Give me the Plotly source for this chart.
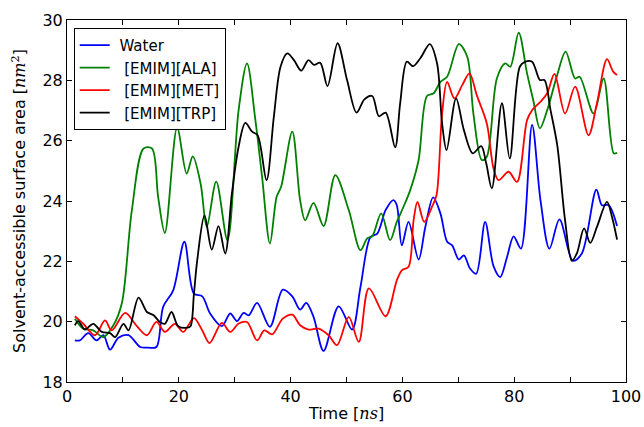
import plotly.graph_objects as go

water_x = [1.4, 2.3, 3.8, 5.3, 6.5, 7.7, 9.2, 11.0, 13.1, 14.5, 16.0, 17.2, 19.0, 21.0, 22.7, 24.2, 25.6, 27.7, 29.2, 30.4,
           31.6, 32.5, 34.0, 36.3, 38.6, 40.3, 41.7, 42.8, 44.1, 45.9, 48.6, 51.0, 52.5, 54.3, 55.5, 57.0, 58.4, 59.0, 59.9,
           61.1, 62.9, 64.1, 65.5, 66.8, 68.0, 68.9, 70.1, 71.0, 72.1, 73.2, 74.8, 76.3, 77.5, 78.7, 79.9, 81.2, 83.2,
           84.7, 86.3, 88.1, 90.5, 92.1, 94.7, 95.7, 96.9, 98.4]
water_y = [19.38, 19.38, 19.62, 19.38, 19.55, 19.07, 19.47, 19.55, 19.16, 19.14, 19.16, 20.49, 21.04, 22.65, 20.93, 20.84,
           20.27, 19.85, 20.27, 20.02, 20.29, 20.21, 20.62, 19.83, 21.06, 20.84, 20.40, 20.62, 20.16, 19.03, 20.51, 19.74,
           21.15, 22.81, 22.92, 23.70, 24.03, 23.86, 22.53, 23.31, 22.06, 23.14, 24.12, 23.59, 22.65, 22.53, 22.06, 22.20,
           21.76, 21.59, 23.31, 21.84, 21.48, 22.13, 22.83, 22.42, 26.52, 24.03, 22.42, 23.39, 22.02, 22.26, 24.38, 23.86,
           23.86, 23.17]

ala_x = [1.4, 2.9, 4.7, 6.5, 8.3, 9.8, 11.6, 13.7, 15.2, 16.3, 17.5, 19.7, 21.4, 22.5, 23.9, 25.0, 26.7, 28.7, 30.7, 32.2,
         33.7, 34.9, 36.3, 37.5, 38.3, 40.3, 41.7, 42.6, 44.1, 45.9, 48.0, 50.4, 52.5, 53.7, 54.6, 56.2, 57.8, 59.0, 60.2,
         61.4, 62.9, 64.4, 65.6, 66.8, 68.0, 70.1, 71.6, 72.7, 74.2, 75.1, 76.9, 78.4, 79.3, 80.8, 82.3, 83.4, 84.6, 85.9,
         87.7, 89.2, 90.9, 91.7, 94.2, 96.0, 97.8, 98.4]
ala_y = [20.10, 19.77, 19.71, 19.49, 19.88, 20.60, 23.69, 25.74, 25.74, 24.14, 22.94, 26.43, 24.91, 25.48, 24.58, 23.14,
         24.64, 22.70, 27.01, 28.56, 26.68, 24.80, 22.59, 24.14, 24.47, 26.30, 24.03, 23.36, 23.94, 23.17, 24.86, 23.70,
         22.37, 22.76, 22.83, 23.59, 22.70, 23.31, 23.81, 24.36, 25.36, 27.48, 27.57, 27.95, 28.12, 29.20, 28.78, 26.90,
         25.36, 25.47, 28.06, 28.56, 28.45, 29.58, 28.23, 27.35, 26.41, 27.01, 28.18, 28.95, 28.06, 28.12, 26.90, 28.06,
         25.58, 25.60]

met_x = [1.4, 2.9, 5.0, 6.8, 8.0, 10.4, 12.5, 14.3, 16.0, 17.5, 19.3, 20.8, 22.7, 24.2, 25.5, 27.7, 29.2, 30.7, 32.2, 34.0,
         35.3, 36.7, 38.6, 40.3, 41.7, 43.2, 45.0, 46.8, 48.3, 50.4, 52.2, 54.0, 57.0, 59.0, 59.9, 61.1, 62.0, 62.7, 63.9,
         65.3, 66.1, 67.1, 68.0, 69.3, 70.7, 72.0, 73.3, 75.1, 76.3, 77.2, 79.0, 80.5, 82.3, 83.2, 84.7, 85.9, 87.2, 89.1,
         90.9, 93.3, 94.8, 96.6, 97.7, 98.4]
met_y = [20.18, 19.93, 19.55, 20.04, 19.71, 20.29, 19.85, 19.55, 19.99, 19.66, 19.93, 19.66, 20.12, 19.71, 19.29, 19.96,
         19.66, 19.94, 19.99, 19.38, 19.71, 19.58, 20.10, 20.23, 19.88, 19.74, 19.77, 19.55, 19.22, 20.16, 19.33, 21.10,
         20.18, 21.37, 21.70, 21.82, 23.36, 23.97, 23.31, 23.81, 24.19, 26.90, 27.95, 27.40, 27.84, 28.23, 27.51, 26.57,
         25.08, 24.69, 24.97, 24.63, 26.68, 27.01, 27.29, 27.57, 28.21, 26.90, 27.79, 26.18, 27.24, 28.70, 28.29, 28.18]

trp_x = [1.4, 2.0, 3.2, 4.7, 6.2, 7.7, 8.6, 10.1, 11.0, 12.8, 14.3, 15.5, 16.6, 17.5, 18.7, 19.9, 21.5, 22.1, 22.7, 23.3,
         24.6, 25.9, 27.1, 28.3, 29.5, 30.7, 31.9, 33.1, 34.1, 35.7, 37.0, 38.2, 39.4, 40.6, 41.9, 43.2, 44.2, 45.3, 46.6,
         48.4, 50.1, 51.8, 53.2, 54.6, 55.8, 57.0, 58.7, 59.6, 60.8, 61.9, 63.2, 64.9, 66.2, 67.1, 67.9, 69.6, 71.0, 72.6,
         74.1, 75.0, 76.0, 77.8, 79.2, 81.0, 82.0, 83.2, 84.6, 85.4, 86.5, 87.7, 89.1, 90.3, 91.2, 92.5, 93.6, 94.8, 96.6,
         97.5, 98.4]
trp_y = [19.88, 20.02, 19.74, 19.93, 19.66, 19.62, 19.49, 19.93, 19.71, 20.80, 20.32, 20.21, 19.99, 19.93, 20.32, 19.85,
         19.80, 19.85, 20.90, 22.04, 23.52, 22.39, 23.17, 22.26, 24.25, 25.80, 26.59, 26.30, 26.18, 24.69, 26.79, 28.45,
         28.89, 28.67, 28.32, 28.67, 28.51, 28.58, 27.81, 29.23, 28.01, 26.93, 27.37, 27.48, 26.81, 26.93, 25.78, 27.24,
         28.62, 28.47, 28.73, 29.20, 28.56, 26.57, 25.69, 27.40, 26.35, 25.58, 25.82, 25.24, 24.42, 27.24, 25.41, 28.45,
         28.62, 28.62, 28.01, 28.01, 27.01, 25.85, 23.36, 22.02, 22.26, 23.09, 22.61, 23.14, 23.97, 23.47, 22.72]

series = [
    ("\u00a0Water", water_x, water_y, "#0000ff"),
    ("\u00a0 [EMIM][ALA]", ala_x, ala_y, "#008000"),
    ("\u00a0 [EMIM][MET]", met_x, met_y, "#ff0000"),
    ("\u00a0 [EMIM][TRP]", trp_x, trp_y, "#000000"),
]

x_ticks = [0, 20, 40, 60, 80, 100]
y_ticks = [18, 20, 22, 24, 26, 28, 30]

fig = go.Figure()
for name, xs, ys, color in series:
    fig.add_trace(go.Scatter(x=xs, y=ys, mode="lines", name=name,
                             line=dict(color=color, width=1.8, shape="spline", smoothing=0.9)))

font = dict(family="DejaVu Sans", size=16, color="black")
fig.update_layout(
    width=644, height=427,
    margin=dict(l=67, r=18, t=20, b=45),
    paper_bgcolor="white", plot_bgcolor="white",
    font=font,
    showlegend=True,
    legend=dict(x=0.012, y=0.978, xanchor="left", yanchor="top",
                bgcolor="white", bordercolor="black", borderwidth=1,
                font=dict(family="DejaVu Sans", size=15, color="black"),
                itemwidth=30, tracegroupgap=0),
)
fig.update_xaxes(range=[0, 100], tickvals=x_ticks, ticks="inside", ticklen=5, tickcolor="black",
                 minor=dict(dtick=10, ticks="inside", ticklen=5, tickcolor="black"),
                 showline=True, linecolor="black", linewidth=1, mirror="ticks",
                 showgrid=False, zeroline=False, tickfont=font, automargin=False,
                 title=dict(text="Time [<span style='font-family:DejaVu Serif'><i>ns</i></span>]", font=font, standoff=2))
fig.update_yaxes(range=[18, 30], tickvals=y_ticks, ticks="inside", ticklen=5, tickcolor="black",
                 showline=True, linecolor="black", linewidth=1, mirror="ticks",
                 showgrid=False, zeroline=False, tickfont=font, automargin=False,
                 title=dict(text="Solvent-accessible surface area [<span style='font-family:DejaVu Serif'><i>nm</i><sup>2</sup></span>]",
                            font=font, standoff=12))

fig.write_html("out.html", config={"displayModeBar": False},
               post_script="document.body.style.margin='0px';document.body.style.overflow='hidden';")
